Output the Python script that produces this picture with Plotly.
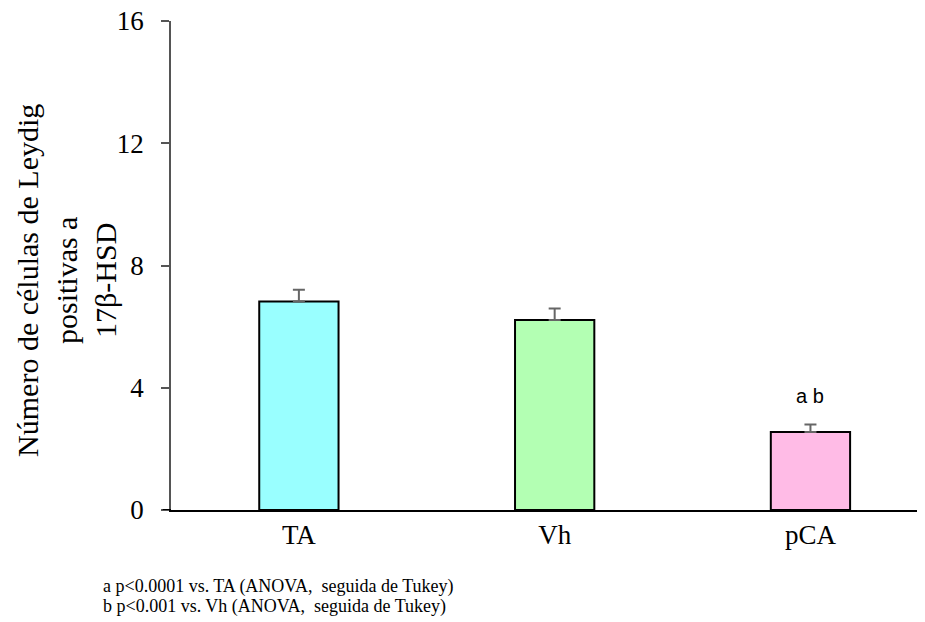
import plotly.graph_objects as go

categories = ["TA", "Vh", "pCA"]
values = [6.82, 6.22, 2.55]
errors = [0.39, 0.37, 0.25]
colors = ["#99FFFF", "#B3FFB3", "#FFBBE6"]
y_ticks = [0, 4, 8, 12, 16]
sig_labels = ["", "", "a b"]
footnotes = ["a p<0.0001 vs. TA (ANOVA,  seguida de Tukey)",
             "b p<0.001 vs. Vh (ANOVA,  seguida de Tukey)"]

serif = "Liberation Serif, Times New Roman, serif"

fig = go.Figure()
fig.add_trace(go.Bar(
    x=categories, y=values,
    marker=dict(color=colors, line=dict(color="black", width=2)),
    width=0.31,
    error_y=dict(type="data", array=errors, symmetric=False, arrayminus=[0]*3,
                 color="#666666", thickness=2, width=6),
))

for c, v, e, s in zip(categories, values, errors, sig_labels):
    if s:
        fig.add_annotation(x=c, y=v + e, yshift=28, text=s, showarrow=False,
                           font=dict(family="Liberation Sans, Arial, sans-serif", size=20, color="black"),
                           xref="x", yref="y")

fig.add_annotation(xref="paper", yref="paper", x=-0.14, y=0.47, xanchor="center", yanchor="middle",
                   text="Número de células de Leydig<br>positivas a<br>17β-HSD", textangle=-90,
                   showarrow=False, font=dict(family=serif, size=30, color="black"))

for i, (line, yy) in enumerate(zip(footnotes, [-0.157, -0.198])):
    fig.add_annotation(xref="paper", yref="paper", x=-0.093, y=yy, xanchor="left", yanchor="middle",
                       text=line, showarrow=False, align="left",
                       font=dict(family=serif, size=18, color="black"))

fig.add_shape(type="line", xref="paper", yref="y", x0=-0.011, x1=0, y0=0, y1=0,
              line=dict(color="black", width=2))

fig.update_layout(
    width=917, height=614,
    margin=dict(l=163, r=2, t=13, b=112),
    plot_bgcolor="white", paper_bgcolor="white",
    showlegend=False,
    xaxis=dict(range=[-0.5, 2.44], showline=True, linecolor="black", linewidth=2,
               ticks="", tickfont=dict(family=serif, size=27, color="black"),
               showgrid=False, zeroline=False, automargin=False),
    yaxis=dict(range=[0, 16], tickvals=y_ticks, showline=True, linecolor="#555555", linewidth=1.5,
               ticks="outside", ticklen=8, tickcolor="#555555", tickwidth=1.5,
               tickfont=dict(family=serif, size=27, color="black"),
               ticklabelstandoff=12, ticklabeloverflow="allow",
               showgrid=False, zeroline=False, automargin=False),
)

fig.write_html("out.html")
